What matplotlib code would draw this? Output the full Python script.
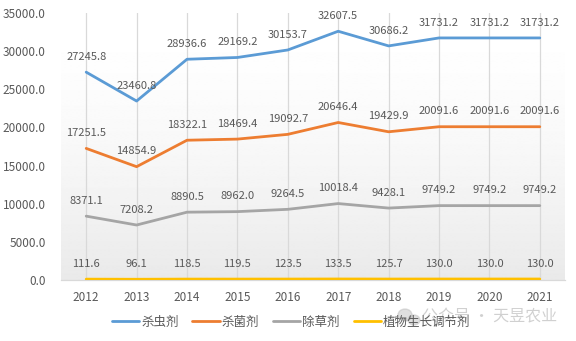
import numpy as np
import matplotlib
matplotlib.use("Agg")
import matplotlib.pyplot as plt
from matplotlib.patches import Ellipse

plt.rcParams['font.family'] = ['Noto Sans CJK SC', 'DejaVu Sans']

years = ["2012", "2013", "2014", "2015", "2016", "2017", "2018", "2019", "2020", "2021"]
insecticide = [27245.8, 23460.8, 28936.6, 29169.2, 30153.7, 32607.5, 30686.2, 31731.2, 31731.2, 31731.2]
fungicide = [17251.5, 14854.9, 18322.1, 18469.4, 19092.7, 20646.4, 19429.9, 20091.6, 20091.6, 20091.6]
herbicide = [8371.1, 7208.2, 8890.5, 8962.0, 9264.5, 10018.4, 9428.1, 9749.2, 9749.2, 9749.2]
regulator = [111.6, 96.1, 118.5, 119.5, 123.5, 133.5, 125.7, 130.0, 130.0, 130.0]

series_names = ["杀虫剂", "杀菌剂", "除草剂", "植物生长调节剂"]
colors = ["#5B9BD5", "#ED7D31", "#A5A5A5", "#FFC000"]
yticks = [0, 5000, 10000, 15000, 20000, 25000, 30000, 35000]

text_color = "#595959"
fs = 8

fig = plt.figure(figsize=(5.76, 3.41), dpi=100)
ax = fig.add_axes([61 / 576, 1 - 280 / 341, (565 - 61) / 576, (280 - 13) / 341])

x = np.arange(len(years))
ax.set_xlim(-0.5, len(years) - 0.5)

# plot-area background: white at the top fading to light gray at the bottom
t = np.linspace(0, 1, 256) ** 1.6
grad = 1.0 - 0.085 * t
ax.imshow(grad[:, None], extent=[-0.5, len(years) - 0.5, 0, 35000], origin='upper',
          aspect='auto', cmap='gray', vmin=0, vmax=1, zorder=0, interpolation='bilinear')
ax.set_ylim(0, 35000)

for xi in x:
    ax.axvline(xi, color="#D9D9D9", lw=0.9, zorder=1)

for vals, name, c in zip([insecticide, fungicide, herbicide, regulator], series_names, colors):
    ax.plot(x, vals, color=c, lw=2.0, label=name, zorder=3, solid_capstyle='round')
    for xi, v in zip(x, vals):
        ax.annotate(f"{v:.1f}", (xi, v), xytext=(0, 11), textcoords='offset points',
                    ha='center', va='center', fontsize=fs, color=text_color, zorder=4)

ax.set_xticks(x)
ax.set_xticklabels(years)
ax.set_yticks(yticks)
ax.set_yticklabels([f"{v:.1f}" for v in yticks])
ax.tick_params(axis='both', length=0, labelsize=8.5, labelcolor=text_color)
ax.tick_params(axis='x', pad=8)
ax.tick_params(axis='y', pad=11)

for side in ["top", "right", "left"]:
    ax.spines[side].set_visible(False)
ax.spines["bottom"].set_color("#D9D9D9")
ax.spines["bottom"].set_linewidth(0.9)

leg = fig.legend(loc='center', bbox_to_anchor=(291 / 576, 1 - 322 / 341), ncol=4,
                 frameon=False, fontsize=9, handlelength=2.2, handletextpad=0.15,
                 columnspacing=1.1, labelcolor=text_color)

# faint account watermark with a small chat-bubble mark
wm_color = "#b8b8b8"
fig.patches.append(Ellipse((405 / 576, 1 - 315 / 341), 14 / 576, 12 / 341,
                           transform=fig.transFigure, color=wm_color, alpha=0.45))
fig.patches.append(Ellipse((414 / 576, 1 - 320 / 341), 12 / 576, 10 / 341,
                           transform=fig.transFigure, color=wm_color, alpha=0.45))
fig.text(490 / 576, 1 - 317 / 341, "公众号 · 天昱农业", ha='center', va='center',
         fontsize=11.5, color=wm_color, alpha=0.65)

fig.savefig("out.png", dpi=100)
